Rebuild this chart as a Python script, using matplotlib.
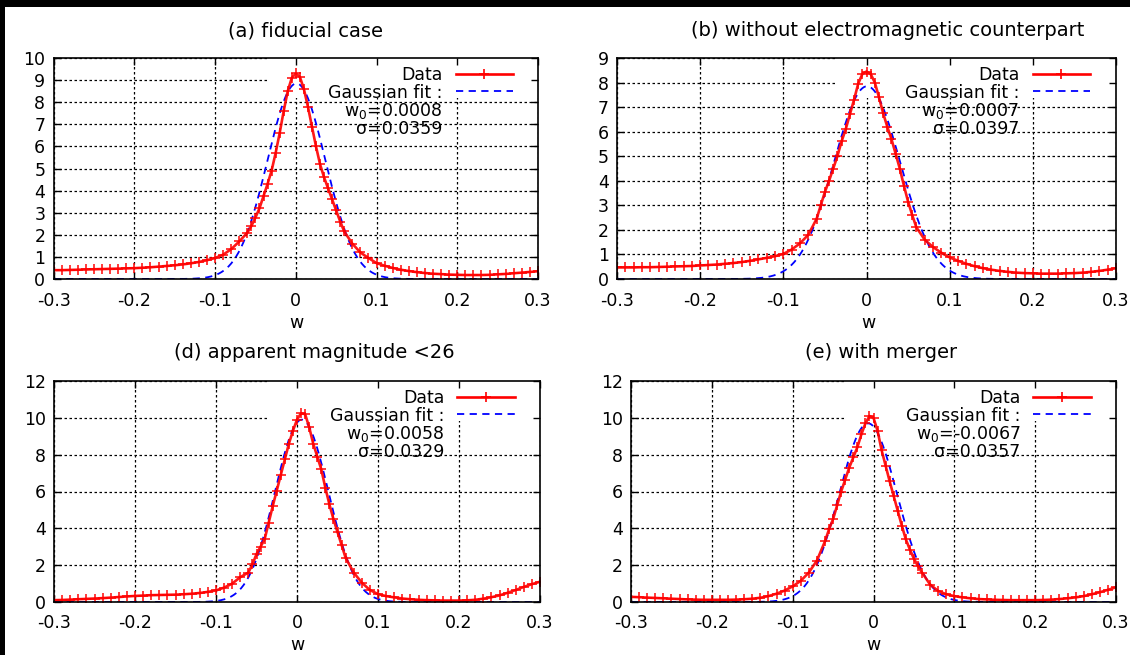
import numpy as np
import matplotlib
matplotlib.use('Agg')
import matplotlib.pyplot as plt
from matplotlib.lines import Line2D
from matplotlib.patches import Rectangle

plt.rcParams['font.family'] = ['DejaVu Sans']
plt.rcParams['mathtext.fontset'] = 'dejavusans'

# ---------------- data ----------------
w = [-0.30, -0.29, -0.28, -0.27, -0.26, -0.25, -0.24, -0.23, -0.22, -0.21,
     -0.20, -0.19, -0.18, -0.17, -0.16, -0.15, -0.14, -0.13, -0.12, -0.11,
     -0.10, -0.09, -0.08, -0.07,
     -0.060, -0.055, -0.050, -0.045, -0.040, -0.035, -0.030, -0.025, -0.020,
     -0.015, -0.010, -0.005, 0.000, 0.005, 0.010, 0.015, 0.020, 0.025,
     0.030, 0.035, 0.040, 0.045, 0.050, 0.055, 0.060,
     0.07, 0.08, 0.09, 0.10, 0.11, 0.12, 0.13, 0.14, 0.15, 0.16,
     0.17, 0.18, 0.19, 0.20, 0.21, 0.22, 0.23, 0.24, 0.25, 0.26,
     0.27, 0.28, 0.29, 0.30]

data_a = [0.40, 0.40, 0.41, 0.42, 0.43, 0.44, 0.45, 0.46, 0.47, 0.48,
          0.49, 0.51, 0.53, 0.56, 0.59, 0.62, 0.66, 0.71, 0.77, 0.85,
          0.95, 1.10, 1.35, 1.70,
          2.10, 2.40, 2.78, 3.20, 3.75, 4.30, 4.90, 5.70, 6.60,
          7.60, 8.50, 9.10, 9.30, 9.15, 8.60, 7.80, 6.90, 6.00,
          5.20, 4.60, 4.10, 3.60, 3.10, 2.60, 2.15,
          1.60, 1.20, 0.95, 0.72, 0.60, 0.50, 0.42, 0.36, 0.31, 0.27,
          0.24, 0.22, 0.20, 0.19, 0.18, 0.18, 0.18, 0.19, 0.21, 0.23,
          0.26, 0.29, 0.32, 0.35]

data_b = [0.47, 0.47, 0.47, 0.48, 0.48, 0.49, 0.50, 0.51, 0.52, 0.53,
          0.55, 0.57, 0.59, 0.62, 0.65, 0.69, 0.74, 0.80, 0.86, 0.93,
          1.02, 1.20, 1.45, 1.80,
          2.45, 3.00, 3.55, 4.00, 4.50, 5.00, 5.60, 6.10, 6.70,
          7.30, 7.95, 8.35, 8.45, 8.35, 8.00, 7.40, 6.75, 6.20,
          5.70, 5.10, 4.50, 3.80, 3.15, 2.60, 2.10,
          1.60, 1.30, 1.07, 0.88, 0.74, 0.62, 0.52, 0.44, 0.38, 0.33,
          0.29, 0.26, 0.24, 0.23, 0.22, 0.22, 0.22, 0.23, 0.24, 0.26,
          0.29, 0.33, 0.38, 0.44]

data_d = [0.10, 0.11, 0.13, 0.15, 0.17, 0.19, 0.21, 0.24, 0.27, 0.30,
          0.33, 0.35, 0.37, 0.38, 0.39, 0.40, 0.42, 0.45, 0.49, 0.55,
          0.63, 0.78, 1.00, 1.35,
          1.60, 2.05, 2.60, 3.00, 3.40, 4.30, 5.20, 6.05, 6.90,
          7.75, 8.60, 9.30, 9.90, 10.25, 10.20, 9.50, 8.60, 7.90,
          7.20, 6.20, 5.30, 4.50, 3.80, 3.10, 2.40,
          1.60, 1.05, 0.65, 0.43, 0.32, 0.25, 0.19, 0.15, 0.12, 0.10,
          0.09, 0.08, 0.08, 0.08, 0.09, 0.12, 0.18, 0.26, 0.36, 0.50,
          0.65, 0.82, 0.97, 1.10]

data_e = [0.28, 0.26, 0.24, 0.22, 0.20, 0.18, 0.16, 0.14, 0.13, 0.12,
          0.12, 0.12, 0.12, 0.13, 0.15, 0.18, 0.23, 0.32, 0.45, 0.62,
          0.85, 1.15, 1.60, 2.25,
          3.30, 3.95, 4.50, 5.25, 6.00, 6.65, 7.30, 7.85, 8.40,
          9.10, 9.70, 10.10, 10.00, 9.30, 8.25, 7.40, 6.55, 5.75,
          4.95, 4.15, 3.40, 2.85, 2.35, 1.95, 1.60,
          0.95, 0.60, 0.42, 0.32, 0.25, 0.20, 0.16, 0.14, 0.12, 0.11,
          0.10, 0.10, 0.10, 0.10, 0.11, 0.13, 0.16, 0.20, 0.25, 0.32,
          0.42, 0.53, 0.66, 0.80]

titles = ['(a) fiducial case', '(b) without electromagnetic counterpart',
          '(d) apparent magnitude <26', '(e) with merger']
fit_amp = [8.85, 7.85, 9.9, 9.7]
fit_w0 = [0.0008, 0.0007, 0.0058, -0.0067]
fit_sigma = [0.0359, 0.0397, 0.0329, 0.0357]
w0_text = ['0.0008', '0.0007', '0.0058', '-0.0067']
sigma_text = ['0.0359', '0.0397', '0.0329', '0.0357']
y_max = [10, 9, 12, 12]
yticks_list = [[0, 1, 2, 3, 4, 5, 6, 7, 8, 9, 10],
               [0, 1, 2, 3, 4, 5, 6, 7, 8, 9],
               [0, 2, 4, 6, 8, 10, 12],
               [0, 2, 4, 6, 8, 10, 12]]
xticks = [-0.3, -0.2, -0.1, 0.0, 0.1, 0.2, 0.3]
xticklabels = ['-0.3', '-0.2', '-0.1', '0', '0.1', '0.2', '0.3']
datasets = [data_a, data_b, data_d, data_e]

# ---------------- layout ----------------
W, H = 1130, 655
fig = plt.figure(figsize=(W / 100, H / 100), dpi=100, facecolor='black')
fig.patches.append(Rectangle((5 / W, 0), 1, 1 - 7 / H, transform=fig.transFigure,
                             facecolor='white', edgecolor='none', zorder=-10))

# pixel boxes: left, right, top, bottom
boxes = [(53.6, 538, 58, 279), (617, 1116, 58, 279),
         (54, 540, 381, 602), (631, 1116, 381, 602)]
title_pos = [(305, 31), (888, 31), (314, 353), (881, 353)]
xlabel_pos = [(296, 323), (868, 323), (297, 645), (873, 645)]

FS = 12.5
wf = np.linspace(-0.3, 0.3, 601)

for i in range(4):
    l, r, t, b = boxes[i]
    ax = fig.add_axes([l / W, 1 - b / H, (r - l) / W, (b - t) / H])
    ax.set_facecolor('white')
    ax.set_xlim(-0.3, 0.3)
    ax.set_ylim(0, y_max[i])
    yt = yticks_list[i]
    # grid
    ax.hlines(yt, -0.3, 0.3, colors='black', linestyles=(0, (2, 2)), lw=0.9, zorder=0.6)
    ax.vlines(xticks, 0, y_max[i], colors='black', linestyles=(0, (2, 2)), lw=0.9, zorder=0.6)
    # key mask
    ax.add_patch(Rectangle((0.44, 0.82), 0.56, 0.18, transform=ax.transAxes,
                           facecolor='white', edgecolor='none', zorder=0.8))
    # curves
    fit = fit_amp[i] * np.exp(-0.5 * ((wf - fit_w0[i]) / fit_sigma[i]) ** 2)
    ax.plot(wf, fit, color='#0000ff', lw=1.3, dashes=(4, 3), zorder=2.9)
    ax.plot(w, datasets[i], color='#ff0000', lw=1.9, marker='+', ms=7, mew=1.2,
            zorder=3, alpha=0.9)

    ax.set_xticks(xticks)
    ax.set_xticklabels(xticklabels)
    ax.set_yticks(yt)
    ax.set_yticklabels([str(v) for v in yt])
    ax.tick_params(direction='in', length=5, width=1, top=True, right=True,
                   labelsize=FS, color='black')
    ax.tick_params(axis='x', pad=9)
    ax.tick_params(axis='y', pad=6)
    for s in ax.spines.values():
        s.set_linewidth(1.2)
        s.set_zorder(4)

    handles = [Line2D([], [], color='#ff0000', lw=1.9, marker='+', ms=7, mew=1.2),
               Line2D([], [], color='#0000ff', lw=1.3, dashes=(4, 3)),
               Line2D([], [], color='none'),
               Line2D([], [], color='none')]
    labels = ['Data', 'Gaussian fit :', r'w$_0$=' + w0_text[i], '\u03c3=' + sigma_text[i]]
    leg = ax.legend(handles, labels, loc='upper right', bbox_to_anchor=(0.948, 0.962),
                    frameon=False, markerfirst=False, fontsize=FS, borderpad=0,
                    borderaxespad=0, labelspacing=-0.05, handlelength=3.3,
                    handletextpad=0.75)
    leg.set_zorder(5)

    fig.text(title_pos[i][0] / W, 1 - title_pos[i][1] / H, titles[i],
             ha='center', va='center', fontsize=14)
    fig.text(xlabel_pos[i][0] / W, 1 - xlabel_pos[i][1] / H, 'w',
             ha='center', va='center', fontsize=FS)

fig.savefig('out.png', dpi=100, facecolor=fig.get_facecolor())
